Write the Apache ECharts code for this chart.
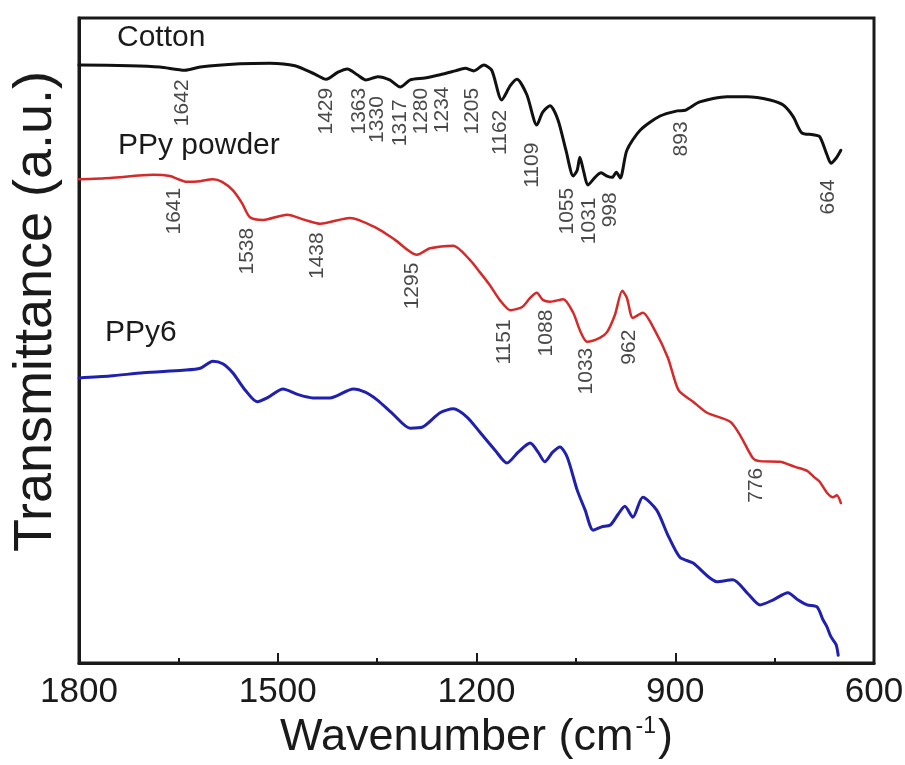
<!DOCTYPE html>
<html>
<head>
<meta charset="utf-8">
<script src="https://cdn.jsdelivr.net/npm/echarts@6/dist/echarts.min.js"></script>
<style>
  html, body { margin: 0; padding: 0; background: #ffffff; }
  #chart { width: 905px; height: 765px; }
</style>
</head>
<body>
<div id="chart"></div>
<script>
// FTIR spectra of cotton, PPy powder and PPy6 (curves offset vertically, arbitrary units)

const seriesNames = ['Cotton', 'PPy powder', 'PPy6'];

// Cotton
const cottonWn = [1800, 1723, 1678, 1640, 1617, 1557, 1512, 1474, 1444, 1427, 1409, 1395, 1380, 1367, 1349, 1331, 1315, 1300, 1278, 1255, 1232, 1217, 1204, 1189, 1177, 1162, 1149, 1139, 1124, 1109, 1100, 1089, 1077, 1065, 1054, 1048, 1044, 1038, 1032, 1021, 1012, 1003, 995, 989, 983, 973, 953, 923, 897, 885, 863, 822, 792, 757, 737, 722, 709, 692, 682, 671, 665, 657, 650];
const cottonT = [92.7, 92.6, 92.4, 91.9, 92.4, 92.9, 93.0, 92.6, 91.3, 90.5, 91.6, 92.1, 91.2, 90.4, 90.9, 90.4, 89.3, 90.4, 90.7, 91.2, 91.8, 92.2, 91.8, 92.7, 91.9, 87.3, 89.5, 90.5, 88.1, 83.4, 85.4, 86.4, 84.2, 79.5, 75.5, 76.4, 78.4, 76.1, 74.1, 75.3, 76.0, 75.5, 75.3, 76.1, 75.2, 79.5, 82.6, 84.8, 85.6, 85.7, 87.0, 87.8, 87.8, 87.3, 86.5, 84.7, 82.2, 81.9, 81.6, 78.8, 77.5, 78.3, 79.5];

// PPy powder
const ppyWn = [1800, 1753, 1688, 1663, 1637, 1617, 1598, 1584, 1568, 1554, 1542, 1522, 1486, 1459, 1436, 1391, 1350, 1323, 1290, 1270, 1235, 1210, 1195, 1180, 1165, 1149, 1131, 1119, 1109, 1100, 1089, 1069, 1054, 1044, 1033, 1014, 1003, 991, 980, 973, 964, 949, 931, 911, 895, 873, 852, 817, 802, 783, 772, 742, 719, 701, 689, 682, 671, 662, 656, 650];
const ppyT = [75.0, 75.2, 75.7, 75.5, 74.6, 74.7, 75.0, 74.6, 73.3, 71.3, 69.1, 68.7, 69.5, 68.7, 68.1, 69.0, 67.4, 65.6, 63.3, 64.3, 64.7, 62.5, 60.6, 58.6, 56.3, 54.7, 55.2, 56.6, 57.4, 56.3, 56.0, 56.4, 54.3, 51.6, 49.8, 50.4, 51.3, 54.0, 57.7, 56.6, 53.5, 54.3, 51.6, 47.3, 42.3, 40.5, 38.8, 37.4, 35.3, 31.8, 31.3, 31.2, 30.4, 29.8, 28.7, 28.1, 26.4, 25.7, 26.0, 24.8];

// PPy6
const ppy6Wn = [1800, 1753, 1703, 1643, 1617, 1598, 1583, 1568, 1549, 1531, 1516, 1492, 1469, 1447, 1421, 1386, 1368, 1350, 1326, 1300, 1281, 1255, 1235, 1214, 1195, 1172, 1154, 1137, 1119, 1107, 1097, 1085, 1074, 1063, 1048, 1036, 1024, 1011, 998, 986, 976, 964, 949, 928, 911, 893, 873, 837, 813, 790, 772, 752, 730, 715, 701, 686, 677, 671, 666, 662, 657, 654];
const ppy6T = [44.2, 44.5, 45.0, 45.4, 45.7, 46.8, 46.4, 45.0, 42.3, 40.5, 41.1, 42.5, 41.6, 41.1, 41.1, 42.5, 42.0, 40.8, 38.6, 36.4, 36.6, 38.8, 39.4, 38.1, 35.8, 33.0, 31.0, 32.7, 34.1, 32.7, 31.2, 32.7, 33.5, 31.9, 26.8, 23.7, 20.6, 21.1, 21.4, 23.1, 24.3, 22.6, 25.7, 23.7, 19.8, 16.4, 15.5, 12.6, 12.9, 10.7, 9.0, 9.8, 10.9, 9.8, 9.0, 8.7, 6.7, 5.6, 4.3, 3.6, 2.8, 1.2];

// Band assignments annotated on the spectra (cm-1)
const cottonPeaks = [1642, 1429, 1363, 1330, 1317, 1280, 1234, 1205, 1162, 1109, 1055, 1031, 998, 893, 664];
const ppyPeaks = [1641, 1538, 1438, 1295, 1151, 1088, 1033, 962, 776];

// Axis
const xMin = 600, xMax = 1800, xStep = 300;

// ---- layout: where each band label starts (top end of the rotated text) ----
const cottonTagAt = [[1643, 90.4], [1426, 89.1], [1376, 89.1], [1349, 87.8], [1315, 87.3], [1282, 89.1], [1251, 89.3], [1205, 89.1], [1164, 85.7], [1115, 80.6], [1062, 73.6], [1029, 72.1], [998, 72.9], [890, 83.9], [669, 74.9]];
const ppyTagAt = [[1655, 73.6], [1546, 67.4], [1439, 66.7], [1296, 62.0], [1157, 53.2], [1094, 54.7], [1033, 48.8], [968, 51.6], [777, 30.2]];

const FONT = '"Liberation Sans", Arial, Helvetica, sans-serif';
const INK = '#1a1a1a';
const colors = ['#111111', '#d42a2a', '#1f20ad'];

function pairs(xs, ys) { return xs.map((x, i) => [x, ys[i]]); }

function lineSeries(name, xs, ys, color, width) {
  return {
    name: name, type: 'line', data: pairs(xs, ys), showSymbol: false, symbol: 'none',
    smooth: 0.25, silent: true,
    lineStyle: { color: color, width: width, cap: 'round', join: 'round' }
  };
}

function tagSeries(peaks, at) {
  return {
    type: 'scatter', silent: true, symbolSize: 1,
    itemStyle: { color: 'rgba(0,0,0,0)' },
    data: peaks.map((p, i) => ({ name: String(p), value: at[i] })),
    label: {
      show: true, formatter: '{b}', rotate: 90, position: [0, 0],
      align: 'right', verticalAlign: 'middle',
      fontFamily: FONT, fontSize: 21, color: INK
    },
    z: 5
  };
}

const chart = echarts.init(document.getElementById('chart'), null, { renderer: 'canvas' });

chart.setOption({
  backgroundColor: '#ffffff',
  animation: false,
  grid: {
    left: 79, right: 31, top: 18, bottom: 102,
    outerBoundsMode: 'none', containLabel: false,
    show: true, borderColor: INK, borderWidth: 3, backgroundColor: 'transparent'
  },
  xAxis: {
    type: 'value', inverse: true, min: xMin, max: xMax, interval: xStep,
    name: 'Wavenumber (cm{sup|-1})',
    nameLocation: 'middle', nameGap: 50,
    nameTextStyle: {
      fontFamily: FONT, fontSize: 45, color: INK,
      rich: { sup: { fontFamily: FONT, fontSize: 23, color: INK, verticalAlign: 'top', padding: [0, 2, 20, 2] } }
    },
    axisLine: { show: true, onZero: false, lineStyle: { color: INK, width: 3 } },
    axisTick: { show: true, inside: true, length: 10, lineStyle: { color: INK, width: 2 } },
    minorTick: { show: true, splitNumber: 2, length: 5, lineStyle: { color: INK, width: 2 } },
    splitLine: { show: false },
    axisLabel: {
      show: true, fontFamily: FONT, fontSize: 35, color: INK, margin: 12,
      showMinLabel: true, showMaxLabel: true,
      formatter: function (v) { return String(v); }
    }
  },
  yAxis: {
    type: 'value', min: 0, max: 100,
    name: 'Transmittance (a.u.)',
    nameLocation: 'middle', nameGap: 16,
    nameTextStyle: { fontFamily: FONT, fontSize: 54, color: INK, padding: [0, 0, 0, 58] },
    axisLine: { show: true, lineStyle: { color: INK, width: 3 } },
    axisTick: { show: false },
    axisLabel: { show: false },
    splitLine: { show: false }
  },
  graphic: [
    { type: 'text', left: 117, top: 23, silent: true, style: { text: seriesNames[0], font: '30px ' + FONT, fill: INK } },
    { type: 'text', left: 118, top: 131, silent: true, style: { text: seriesNames[1], font: '30px ' + FONT, fill: INK } },
    { type: 'text', left: 105, top: 318, silent: true, style: { text: seriesNames[2], font: '30px ' + FONT, fill: INK } }
  ],
  series: [
    lineSeries(seriesNames[0], cottonWn, cottonT, colors[0], 3),
    lineSeries(seriesNames[1], ppyWn, ppyT, colors[1], 2.5),
    lineSeries(seriesNames[2], ppy6Wn, ppy6T, colors[2], 3),
    tagSeries(cottonPeaks, cottonTagAt),
    tagSeries(ppyPeaks, ppyTagAt)
  ]
});
</script>
</body>
</html>
